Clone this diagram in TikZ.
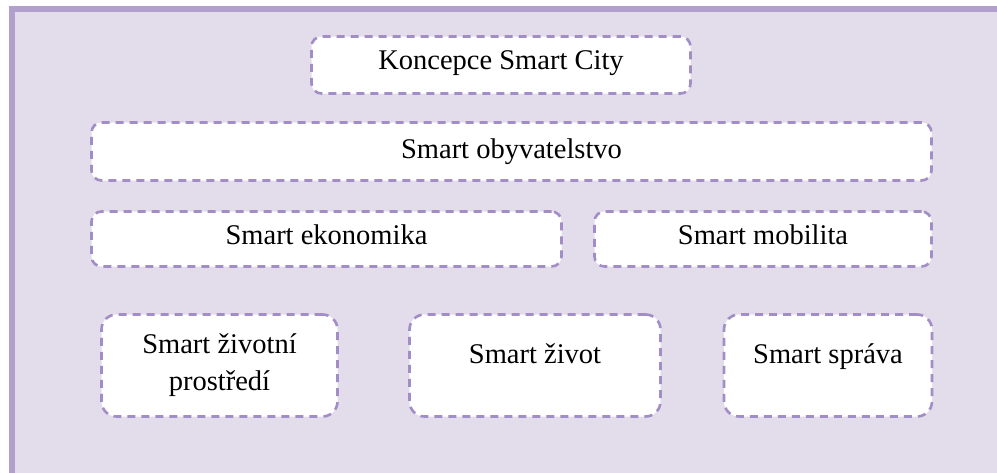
\documentclass[tikz,border=0pt]{standalone}
\usepackage{fontspec}
\setmainfont{Liberation Serif}
\definecolor{panel}{HTML}{E3DDEB}
\definecolor{frameline}{HTML}{B1A0CC}
\definecolor{dashline}{HTML}{A28DC6}
\begin{document}
\begin{tikzpicture}[x=1pt,y=-1pt,
  cell/.style={draw=dashline, fill=white, line width=2.6pt,
    dash pattern=on 8pt off 6pt, rounded corners=10pt, inner sep=0pt,
    font=\fontsize{28.5}{37}\selectfont, align=center,
    text height=20pt, text depth=12pt},
  tallcell/.style={cell, rounded corners=15pt, text depth=24pt}]
\useasboundingbox (0,0) rectangle (997,472);
\clip (0,0) rectangle (997,472);
% panel with its frame on the left and top
\fill[panel] (9,6) rectangle (1010,480);
\draw[frameline, line width=6pt] (12,490) -- (12,9) -- (1010,9);

\node[cell, minimum width=379pt, minimum height=57pt] (city) at (501,65) {Koncepce Smart City};
\node[cell, text depth=6pt, minimum width=840pt, minimum height=58pt] (people) at (511.5,151.5) {Smart obyvatelstvo};
\node[cell, text depth=9pt, minimum width=470pt, minimum height=55pt] (economy) at (326.5,239) {Smart ekonomika};
\node[cell, text depth=9pt, minimum width=337pt, minimum height=55pt] (mobility) at (763,239) {Smart mobilita};
\node[tallcell, text height=57pt, text depth=8pt, minimum width=236pt, minimum height=102pt] (environment) at (219.5,365.5) {Smart životní\\prostředí};
\node[tallcell, minimum width=251pt, minimum height=102pt] (living) at (535,365.5) {Smart život};
\node[tallcell, minimum width=208pt, minimum height=102pt] (governance) at (828,365.5) {Smart správa};
\end{tikzpicture}
\end{document}
